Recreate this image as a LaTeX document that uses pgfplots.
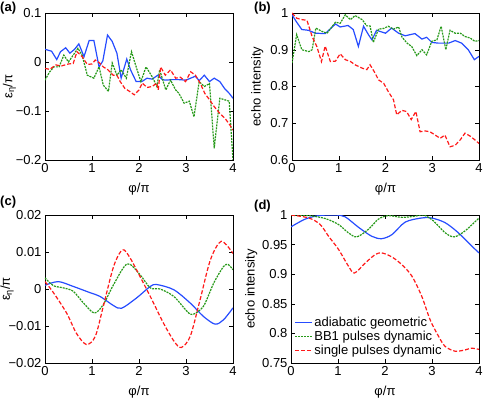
\documentclass[border=0pt]{standalone}
\usepackage{fontspec}
\setmainfont{Liberation Sans}
\usepackage{pgfplots}
\pgfplotsset{compat=1.18}

\definecolor{mblue}{rgb}{0.15,0.3,1}
\definecolor{mgreen}{rgb}{0.15,0.6,0.1}
\definecolor{mred}{rgb}{1,0.1,0.1}

\pgfplotsset{
  panel/.style={
    scale only axis, width=188pt, height=147pt,
    xmin=0, xmax=4, xtick={0,...,4},
    tick label style={font=\fontsize{13}{15}\selectfont},
    label style={font=\fontsize{13}{15}\selectfont},
    /pgf/number format/assume math mode=true,
    scaled ticks=false,
    tick style={black, thin}, major tick length=4pt,
    axis line style={black, line width=0.7pt},
    xlabel={φ/π},
    xlabel style={yshift=-3pt},
    every axis plot/.append style={line width=1.2pt},
  },
  ylab/.style={ylabel style={at={(axis description cs:#1,0.5)}, anchor=south}},
  bl/.style={mblue, solid},
  gr/.style={mgreen, dash pattern=on 2pt off 1pt},
  rd/.style={mred, dash pattern=on 4pt off 2pt},
}

\begin{document}
\begin{tikzpicture}
\useasboundingbox (0,0) rectangle (484pt,399pt);

% (a)
\begin{axis}[panel, at={(45pt,239pt)}, anchor=south west,
  ymin=-0.2, ymax=0.1, ytick={-0.2,-0.1,0,0.1},
  yticklabels={−0.2,−0.1,0,0.1},
  ylabel={ε\textsubscript{η}/π}, ylab=-0.135]
\addplot[bl] coordinates {
(0,0.026)(0.14,0.022)(0.25,0.005)(0.33,0.021)(0.44,0.029)(0.53,0.018)(0.63,0.026)
(0.72,0.037)(0.83,0.011)(0.94,0.044)(1.04,0.044)(1.15,-0.01)(1.23,0.002)(1.33,0.055)
(1.43,0.042)(1.53,0.018)(1.62,-0.033)(1.74,0.006)(1.82,-0.016)(1.94,-0.04)(2.06,-0.04)
(2.17,-0.033)(2.28,-0.035)(2.4,-0.027)(2.5,-0.036)(2.57,-0.037)(2.7,-0.036)(2.85,-0.036)
(3.0,-0.037)(3.2,-0.029)(3.28,-0.038)(3.39,-0.027)(3.5,-0.04)(3.6,-0.033)(3.72,-0.04)
(3.82,-0.054)(3.92,-0.064)(4,-0.074)};
\addplot[gr] coordinates {
(0,-0.037)(0.1,-0.02)(0.19,-0.01)(0.3,-0.01)(0.4,0.014)(0.5,0.0)(0.6,0.014)(0.7,0.028)
(0.79,0.014)(0.9,-0.027)(1.04,-0.033)(1.15,-0.01)(1.24,-0.047)(1.35,-0.06)(1.43,-0.002)
(1.53,-0.027)(1.62,-0.016)(1.73,-0.033)(1.84,0.021)(1.94,-0.01)(2.04,-0.04)(2.15,-0.01)
(2.28,-0.03)(2.38,-0.05)(2.44,-0.016)(2.57,-0.057)(2.67,-0.037)(2.78,-0.057)(2.85,-0.064)
(2.96,-0.084)(3.07,-0.08)(3.17,-0.112)(3.28,-0.04)(3.39,-0.05)(3.5,-0.044)(3.6,-0.176)
(3.72,-0.074)(3.82,-0.077)(3.92,-0.08)(4,-0.2)};
\addplot[rd] coordinates {
(0,-0.013)(0.1,-0.015)(0.23,-0.006)(0.35,-0.008)(0.5,-0.004)(0.6,-0.003)(0.68,0.021)
(0.79,0.011)(0.9,-0.005)(1.0,-0.004)(1.07,0.004)(1.15,-0.001)(1.24,-0.01)(1.34,-0.016)
(1.45,-0.027)(1.53,-0.027)(1.6,-0.04)(1.7,-0.054)(1.8,-0.06)(1.9,-0.067)(2.0,-0.057)
(2.07,-0.043)(2.17,-0.052)(2.28,-0.05)(2.38,-0.043)(2.41,-0.057)(2.46,-0.01)(2.56,-0.027)
(2.67,-0.016)(2.78,-0.033)(2.88,-0.031)(2.99,-0.04)(3.1,-0.02)(3.2,-0.027)(3.3,-0.043)
(3.4,-0.064)(3.5,-0.077)(3.6,-0.091)(3.72,-0.105)(3.83,-0.115)(3.93,-0.128)(4,-0.139)};
\end{axis}

% (b)
\begin{axis}[panel, at={(292pt,239pt)}, anchor=south west, width=187pt,
  ymin=0.6, ymax=1, ytick={0.6,0.7,0.8,0.9,1},
  ylabel={echo intensity}, ylab=-0.135]
\addplot[bl] coordinates {
(0,0.995)(0.1,0.975)(0.21,0.955)(0.35,0.953)(0.5,0.945)(0.71,0.944)(0.93,0.97)(1.03,0.962)
(1.2,0.966)(1.31,0.955)(1.42,0.909)(1.53,0.964)(1.64,0.94)(1.71,0.927)(1.81,0.953)(2.0,0.945)
(2.13,0.959)(2.28,0.945)(2.42,0.938)(2.63,0.944)(2.78,0.929)(2.88,0.934)(2.99,0.92)(3.13,0.918)
(3.35,0.918)(3.49,0.925)(3.63,0.918)(3.77,0.9)(3.9,0.873)(4,0.882)};
\addplot[gr] coordinates {
(0,0.864)(0.1,0.941)(0.21,0.9)(0.36,0.895)(0.43,0.9)(0.51,0.959)(0.64,0.95)(0.75,0.945)
(0.93,0.975)(1.03,0.972)(1.14,0.995)(1.25,0.982)(1.35,0.993)(1.5,0.982)(1.6,0.965)(1.67,0.965)
(1.74,0.92)(1.85,0.956)(1.96,0.958)(2.06,0.964)(2.17,0.956)(2.28,0.962)(2.35,0.935)(2.46,0.918)
(2.56,0.909)(2.67,0.884)(2.78,0.9)(2.88,0.886)(2.99,0.923)(3.1,0.927)(3.19,0.964)(3.29,0.9)
(3.38,0.953)(3.49,0.945)(3.6,0.945)(3.7,0.936)(3.81,0.932)(3.91,0.923)(4,0.925)};
\addplot[rd] coordinates {
(0,1.0)(0.1,0.986)(0.21,0.982)(0.32,0.98)(0.43,0.936)(0.53,0.909)(0.63,0.868)(0.71,0.91)
(0.82,0.868)(0.93,0.869)(1.03,0.889)(1.14,0.873)(1.25,0.868)(1.35,0.859)(1.5,0.85)(1.6,0.846)
(1.67,0.859)(1.78,0.836)(1.85,0.818)(1.96,0.809)(2.06,0.786)(2.17,0.764)(2.24,0.723)(2.35,0.735)
(2.45,0.732)(2.55,0.71)(2.65,0.732)(2.74,0.677)(2.85,0.679)(2.95,0.677)(3.06,0.668)(3.17,0.659)
(3.27,0.668)(3.38,0.636)(3.49,0.64)(3.6,0.655)(3.7,0.673)(3.81,0.665)(3.91,0.655)(4,0.645)};
\end{axis}

% (c)
\begin{axis}[panel, at={(45pt,36pt)}, anchor=south west, height=148pt,
  ymin=-0.02, ymax=0.02, ytick={-0.02,-0.01,0,0.01,0.02},
  yticklabels={−0.02,−0.01,0,0.01,0.02},
  ylabel={ε\textsubscript{η}/π}, ylab=-0.148]
\addplot[bl, smooth] coordinates {
(0,0.001)(0.28,0.002)(0.6,0.0007)(0.96,-0.001)(1.17,-0.002)(1.46,-0.0045)(1.63,-0.0052)
(1.95,-0.0024)(2.24,0.0007)(2.38,0.0012)(2.74,-0.0002)(3.09,-0.0038)(3.37,-0.0074)
(3.62,-0.0095)(3.8,-0.0083)(4,-0.0051)};
\addplot[gr, smooth] coordinates {
(0,0.003)(0.18,0.0009)(0.39,0.0003)(0.6,-0.0006)(0.82,-0.0038)(1.05,-0.0065)(1.24,-0.0042)
(1.46,0.0012)(1.75,0.0068)(2.02,0.0039)(2.24,0.0003)(2.45,0.0)(2.74,-0.002)(3.02,-0.006)
(3.14,-0.0069)(3.37,-0.0047)(3.59,0.0016)(3.8,0.0061)(3.9,0.0066)(4,0.0052)};
\addplot[rd, smooth] coordinates {
(0,0.002)(0.18,-0.001)(0.46,-0.0065)(0.67,-0.012)(0.88,-0.015)(1.07,-0.0128)(1.24,-0.0047)
(1.46,0.0061)(1.65,0.0106)(1.81,0.0084)(2.02,0.0034)(2.24,-0.002)(2.52,-0.0092)(2.75,-0.0142)
(2.9,-0.0158)(3.09,-0.0128)(3.3,-0.0029)(3.52,0.0079)(3.75,0.0129)(4,0.0096)};
\end{axis}

% (d)
\begin{axis}[panel, at={(291pt,36pt)}, anchor=south west, height=148pt,
  ymin=0.75, ymax=1, ytick={0.75,0.8,0.85,0.9,0.95,1},
  ylabel={echo intensity}, ylab=-0.16,
  legend style={draw=none, fill=none, at={(0.0,0.02)}, anchor=south west,
    font=\fontsize{13}{14}\selectfont, row sep=-1pt,
    nodes={inner sep=2pt}},
  legend image code/.code={\draw[#1] (0pt,0pt) -- (17pt,0pt);},
  legend cell align=left]
\addplot[bl, smooth] coordinates {
(0,0.98)(0.3,0.993)(0.59,0.999)(0.94,1.0)(1.15,0.997)(1.44,0.979)(1.72,0.964)(1.93,0.96)
(2.15,0.967)(2.43,0.988)(2.78,0.995)(2.99,0.995)(3.28,0.987)(3.56,0.97)(3.84,0.948)(4,0.936)};
\addplot[gr, smooth] coordinates {
(0,1.0)(0.38,0.999)(0.73,0.994)(1.01,0.984)(1.22,0.97)(1.4,0.963)(1.65,0.976)(1.86,0.993)
(2.07,0.999)(2.36,0.996)(2.64,0.998)(2.82,1.0)(3.03,0.99)(3.28,0.97)(3.47,0.963)(3.7,0.973)
(4,0.995)};
\addplot[rd, smooth] coordinates {
(0,1.0)(0.38,0.995)(0.62,0.984)(0.8,0.964)(1.01,0.942)(1.22,0.914)(1.35,0.902)(1.58,0.919)
(1.79,0.933)(1.93,0.936)(2.15,0.929)(2.36,0.916)(2.57,0.897)(2.78,0.863)(2.96,0.823)
(3.14,0.795)(3.28,0.778)(3.49,0.77)(3.7,0.772)(3.84,0.775)(4,0.773)};
\legend{adiabatic geometric, BB1 pulses dynamic, single pulses dynamic}
\end{axis}

\node[anchor=north west, inner sep=0pt, font=\fontsize{13}{15}\selectfont\bfseries] at (0pt,397pt) {(a)};
\node[anchor=north west, inner sep=0pt, font=\fontsize{13}{15}\selectfont\bfseries] at (254pt,397pt) {(b)};
\node[anchor=north west, inner sep=0pt, font=\fontsize{13}{15}\selectfont\bfseries] at (0pt,203pt) {(c)};
\node[anchor=north west, inner sep=0pt, font=\fontsize{13}{15}\selectfont\bfseries] at (254pt,199pt) {(d)};
\end{tikzpicture}
\end{document}
